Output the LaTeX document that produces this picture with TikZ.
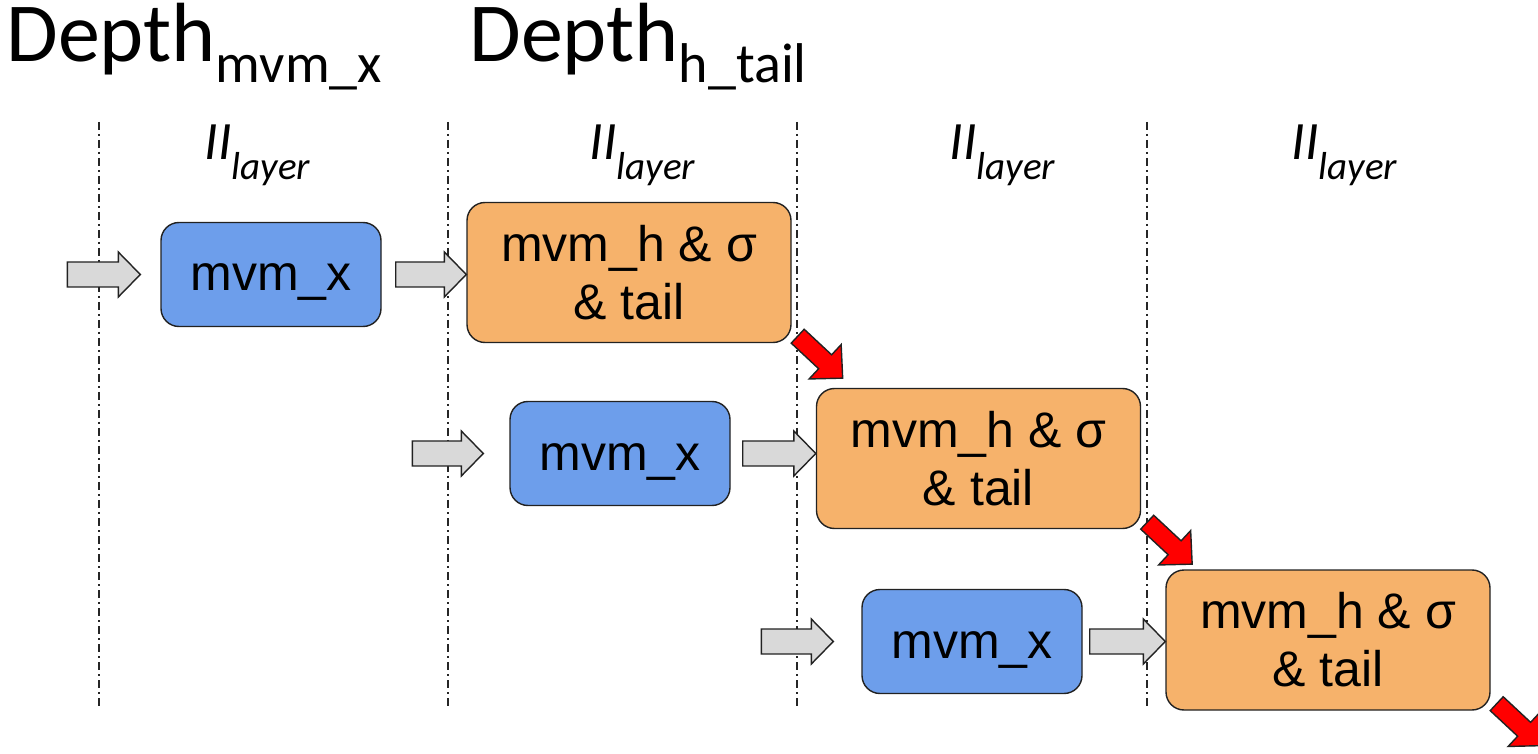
\documentclass[tikz,border=0pt]{standalone}
\usepackage{fontspec}
\setmainfont{Liberation Sans}
\newfontfamily\headfont{Carlito}
\usetikzlibrary{calc}

\definecolor{mvmblue}{HTML}{6D9EEB}
\definecolor{tailorange}{HTML}{F6B26B}
\definecolor{arrowgray}{HTML}{D9D9D9}
\definecolor{edgegray}{HTML}{222222}

% heading "Depth" with a lowered subscript
\newcommand\depthlabel[1]{{\headfont\fontsize{42}{42}\selectfont Depth\raisebox{-10.5pt}{\fontsize{28}{28}\selectfont #1}}}
% initiation interval label
\newcommand\iilabel{{\headfont\itshape\fontsize{27}{27}\selectfont II\raisebox{-10pt}{\fontsize{19.5}{19.5}\selectfont layer}}}

% horizontal block arrow from tail point #2 to tip point #3, style #1
\newcommand\blockarrow[3]{%
  \draw[#1] let \p1=(#2), \p2=(#3) in
    (\x1,\y1+6.25pt) -- (\x2-11pt,\y1+6.25pt) -- (\x2-11pt,\y1+11.25pt) --
    (\x2,\y1) -- (\x2-11pt,\y1-11.25pt) -- (\x2-11pt,\y1-6.25pt) --
    (\x1,\y1-6.25pt) -- cycle;}

% diagonal red arrow leaving the lower right corner of node #1
\newcommand\redarrow[1]{%
  \begin{scope}[shift={($(#1.south east)+(6,-7)$)}, rotate=-43]
    \draw[redblock] (0,-9.5) -- (37.5,-9.5) -- (37.5,-23.5) -- (61.5,0) --
      (37.5,23.5) -- (37.5,9.5) -- (0,9.5) -- cycle;
  \end{scope}}

\tikzset{
  mvmbox/.style={draw=edgegray, line width=0.7pt, fill=mvmblue, rounded corners=9pt,
    minimum width=110pt, minimum height=52pt, inner sep=0pt,
    text height=16.5pt, text depth=0pt,
    font=\fontsize{25}{29}\selectfont},
  tailbox/.style={draw=edgegray, line width=0.7pt, fill=tailorange, rounded corners=9pt,
    minimum width=162pt, minimum height=70pt, inner sep=0pt, align=center,
    font=\fontsize{25}{29}\selectfont},
  grayblock/.style={draw=edgegray, line width=0.7pt, fill=arrowgray, line join=miter},
  redblock/.style={draw=edgegray, line width=0.7pt, fill=red, line join=miter},
  stageline/.style={draw=black!85, line width=0.7pt, dash pattern=on 4pt off 2pt on 1pt off 2pt},
  headtext/.style={anchor=base west, inner sep=0pt},
}

\begin{document}
\begin{tikzpicture}[x=0.5pt, y=-0.5pt]
  \fill[white] (0,0) rectangle (1538,754);
  \useasboundingbox (0,0) rectangle (1538,754);

  % pipeline stage boundaries
  \foreach \xx in {99,448,797,1147}
    \draw[stageline] (\xx,122) -- (\xx,706);

  % headings
  \node[headtext] (dmx) at (6,62) {\depthlabel{mvm\_x}};
  \node[headtext] (dht) at (469,62) {\depthlabel{h\_tail}};

  % interval labels
  \node[headtext] (ii1) at (204,160) {\iilabel};
  \node[headtext] (ii2) at (589,160) {\iilabel};
  \node[headtext] (ii3) at (949,160) {\iilabel};
  \node[headtext] (ii4) at (1291,160) {\iilabel};

  % stage boxes
  \node[mvmbox] (mx1) at (271,274.5) {mvm\_x};
  \node[mvmbox] (mx2) at (620,453.5) {mvm\_x};
  \node[mvmbox] (mx3) at (972,641.5) {mvm\_x};
  \node[tailbox] (ht1) at (629,272.5) {mvm\_h \& σ\\\& tail};
  \node[tailbox] (ht2) at (978.5,458.5) {mvm\_h \& σ\\\& tail};
  \node[tailbox] (ht3) at (1328,640) {mvm\_h \& σ\\\& tail};

  % incoming inputs
  \coordinate (in1) at ($(mx1.west)+(-93,0)$);
  \coordinate (in2) at ($(mx2.west)+(-97,0)$);
  \coordinate (in3) at ($(mx3.west)+(-100,0)$);
  \blockarrow{grayblock}{in1}{$(mx1.west)+(-20,0)$}
  \blockarrow{grayblock}{in2}{$(mx2.west)+(-26,0)$}
  \blockarrow{grayblock}{in3}{$(mx3.west)+(-28,0)$}

  % mvm_x feeds the recurrent stage
  \blockarrow{grayblock}{$(mx1.east)+(14,0)$}{mx1.east -| ht1.west}
  \blockarrow{grayblock}{$(mx2.east)+(12,0)$}{mx2.east -| ht2.west}
  \blockarrow{grayblock}{$(mx3.east)+(7,0)$}{mx3.east -| ht3.west}

  % recurrent dependency between layers
  \redarrow{ht1}
  \redarrow{ht2}
  \redarrow{ht3}
\end{tikzpicture}
\end{document}
